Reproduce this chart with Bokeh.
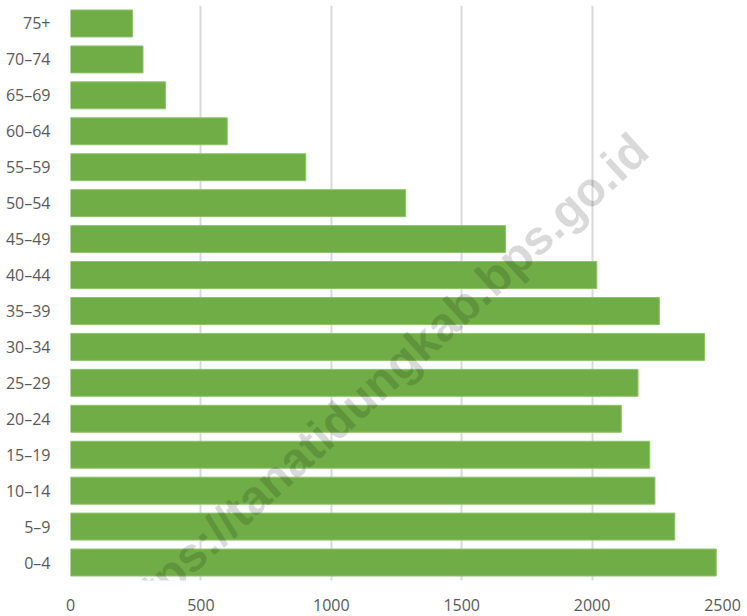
from bokeh.plotting import figure
from bokeh.models import Label, FixedTicker, FactorRange
from bokeh.embed import file_html
from bokeh.resources import INLINE

age_groups = ["0–4", "5–9", "10–14", "15–19", "20–24", "25–29", "30–34", "35–39",
              "40–44", "45–49", "50–54", "55–59", "60–64", "65–69", "70–74", "75+"]
population = [2476, 2317, 2241, 2221, 2112, 2176, 2431, 2258,
              2018, 1668, 1285, 902, 601, 364, 278, 238]
x_ticks = [0, 500, 1000, 1500, 2000, 2500]
watermark = "https://tanatidungkab.bps.go.id"

p = figure(width=747, height=616, y_range=FactorRange(*age_groups, range_padding=0),
           x_range=(0, 2500), output_backend="svg", toolbar_location=None,
           min_border_left=70, min_border_right=25, min_border_top=5, min_border_bottom=36)

p.hbar(y=age_groups, right=population, left=0, height=0.75,
       fill_color="#70AD47", line_color="#8CC46A", line_width=1)

p.outline_line_color = None
p.background_fill_color = "white"
p.border_fill_color = "white"

p.xaxis.ticker = FixedTicker(ticks=x_ticks)
p.xaxis.axis_line_color = None
p.xaxis.major_tick_line_color = None
p.xaxis.minor_tick_line_color = None
p.xaxis.major_label_standoff = 12
p.xaxis.major_label_text_font = "Open Sans"
p.xaxis.major_label_text_font_size = "16px"
p.xaxis.major_label_text_color = "#595959"

p.yaxis.axis_line_color = None
p.yaxis.major_tick_line_color = None
p.yaxis.major_label_standoff = 14
p.yaxis.major_label_text_font = "Open Sans"
p.yaxis.major_label_text_font_size = "16px"
p.yaxis.major_label_text_color = "#595959"

p.xgrid.ticker = FixedTicker(ticks=x_ticks)
p.xgrid.grid_line_color = "#D9D9D9"
p.xgrid.grid_line_width = 2
p.ygrid.grid_line_color = None

wm = Label(x=570, y=438, x_units="screen", y_units="screen", text=watermark,
           angle=42.5, angle_units="deg", text_align="right", text_baseline="middle",
           text_font="Liberation Sans", text_font_style="bold", text_font_size="48px",
           text_color="#000000", text_alpha=0.15)
p.add_layout(wm)

open("out.html", "w").write(file_html(p, INLINE))
